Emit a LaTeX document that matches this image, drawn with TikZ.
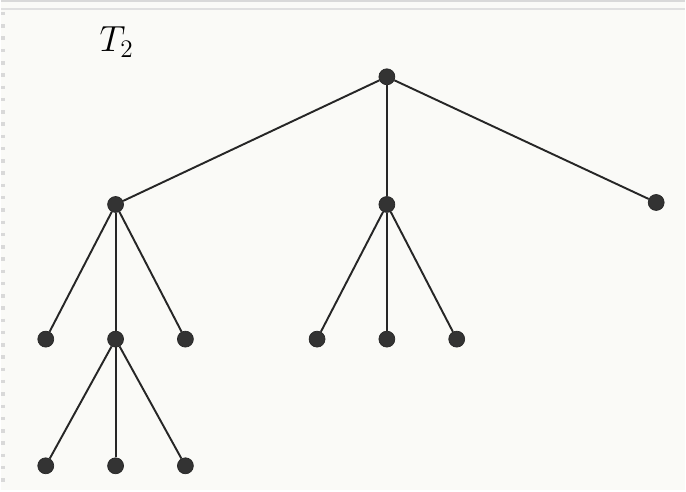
\documentclass[tikz,border=0pt]{standalone}
\usepackage{amsmath}
\usepackage{tikz}

\definecolor{paper}{RGB}{250,250,247}

\begin{document}
\begin{tikzpicture}[x=0.02cm, y=-0.02cm,
    vtx/.style={circle, fill=black!80, draw=black!85, inner sep=0pt, minimum size=0.32cm},
    edge/.style={black!85, line width=1.1pt}]
    % page background and scan frame
    \fill[paper] (0,0) rectangle (686,491);
    \draw[black!15, line width=1pt] (0,1) -- (686,1);
    \draw[black!12, line width=1pt] (0,9) -- (686,9);
    \draw[black!15, line width=2pt, dash pattern=on 2pt off 5pt] (2,12) -- (2,491);
    \useasboundingbox (0,0) rectangle (686,491);

    \node (lbl) at (116,42) {\fontsize{22}{25}\selectfont $T_2$};

    % the tree
    \node[vtx] (r) at (387,77) {};
    \node[vtx] (a) at (115,205) {};
    \node[vtx] (b) at (387,205) {};
    \node[vtx] (c) at (657,203) {};
    \node[vtx] (a1) at (45,340) {};
    \node[vtx] (a2) at (115,340) {};
    \node[vtx] (a3) at (185,340) {};
    \node[vtx] (b1) at (317,340) {};
    \node[vtx] (b2) at (387,340) {};
    \node[vtx] (b3) at (457,340) {};
    \node[vtx] (d1) at (45,467) {};
    \node[vtx] (d2) at (115,467) {};
    \node[vtx] (d3) at (185,467) {};

    \draw[edge] (r) -- (a);
    \draw[edge] (r) -- (b);
    \draw[edge] (r) -- (c);
    \foreach \k in {1,2,3} {
        \draw[edge] (a) -- (a\k);
        \draw[edge] (b) -- (b\k);
        \draw[edge] (a2) -- (d\k);
    }
\end{tikzpicture}
\end{document}
